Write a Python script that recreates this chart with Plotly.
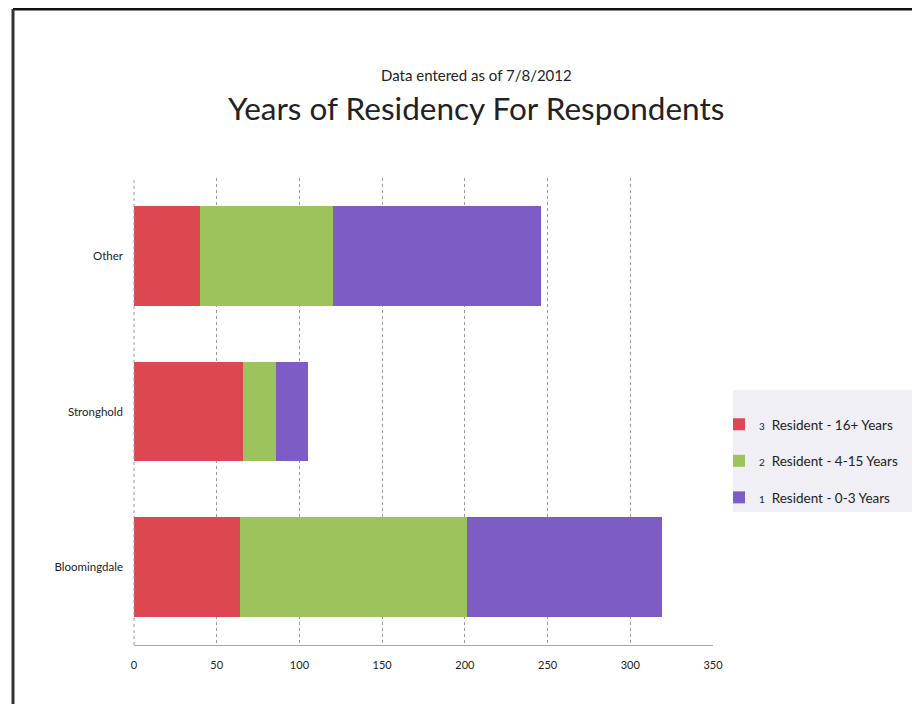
import plotly.graph_objects as go

categories = ["Bloomingdale", "Stronghold", "Other"]
series_names = ["3", "2", "1"]
series_labels = ["Resident - 16+ Years", "Resident - 4-15 Years", "Resident - 0-3 Years"]
values_16plus = [64, 66, 40]
values_4_15 = [137, 20, 80]
values_0_3 = [118, 19, 126]
x_ticks = [0, 50, 100, 150, 200, 250, 300, 350]

colors = ["#dc4752", "#9dc45c", "#7e5cc6"]
FONT = "Lato, 'Open Sans', sans-serif"

# page is shown with an 8px body margin; work in page pixel coordinates
OFF = 8
W, H = 920 - OFF, 704 - OFF
L, R, T, B = 134, 713, 178, 645      # plot area in page pixels
pw, ph = R - L, B - T
def px(x):
    return (x - L) / pw
def py(y):
    return (B - y) / ph

fig = go.Figure()
for num, lab, vals, col in zip(series_names, series_labels,
                               [values_16plus, values_4_15, values_0_3], colors):
    fig.add_trace(go.Bar(
        y=categories, x=vals, orientation="h",
        name=f"<span style='font-size:10px'>{num}</span>  {lab}",
        marker=dict(color=col, line=dict(width=0)),
        legendgroup=lab,
    ))

fig.update_layout(
    width=W, height=H,
    margin=dict(l=L - OFF, r=920 - R, t=T - OFF, b=704 - B),
    barmode="stack", bargap=0.36,
    paper_bgcolor="white", plot_bgcolor="white",
    font=dict(family=FONT, color="#222222"),
    showlegend=True,
    legend=dict(
        x=px(719), y=py(461), xanchor="left", yanchor="middle",
        traceorder="grouped", tracegroupgap=16,
        bgcolor="rgba(0,0,0,0)", borderwidth=0,
        font=dict(size=13.5, family=FONT, color="#222222"),
        itemwidth=30,
    ),
    xaxis=dict(
        range=[0, 350], tickvals=x_ticks, ticktext=[str(t) for t in x_ticks],
        showgrid=True, gridcolor="#9a9a9a", griddash="dot", gridwidth=1,
        zeroline=False,
        showline=True, linecolor="#aaaaaa", linewidth=1,
        ticks="", tickfont=dict(size=11, family=FONT, color="#222222"),
        ticklabelstandoff=10,
    ),
    yaxis=dict(
        showgrid=False, zeroline=False, showline=False,
        ticks="", tickfont=dict(size=11.5, family=FONT, color="#222222"),
        ticklabelstandoff=10,
    ),
    annotations=[
        dict(text="Data entered as of 7/8/2012", xref="paper", yref="paper",
             x=px(476), y=py(75), xanchor="center", yanchor="middle",
             showarrow=False, font=dict(size=15, family=FONT, color="#222222")),
        dict(text="Years of Residency For Respondents", xref="paper", yref="paper",
             x=px(476), y=py(108), xanchor="center", yanchor="middle",
             showarrow=False, font=dict(size=31.5, family=FONT, color="#222222")),
    ],
    shapes=[
        dict(type="rect", xref="paper", yref="paper", x0=px(733), x1=px(925),
             y0=py(390), y1=py(512), fillcolor="#efeff5", line=dict(width=0),
             layer="below"),
        dict(type="line", xref="paper", yref="paper", x0=px(13), x1=px(925),
             y0=py(9), y1=py(9), line=dict(color="#111111", width=3)),
        dict(type="line", xref="paper", yref="paper", x0=px(13), x1=px(13),
             y0=py(9), y1=py(710), line=dict(color="#333333", width=3)),
        dict(type="line", xref="paper", yref="paper", x0=0, x1=0,
             y0=0, y1=1, line=dict(color="#9a9a9a", width=1, dash="dot")),
    ],
)

fig.write_html("out.html")
